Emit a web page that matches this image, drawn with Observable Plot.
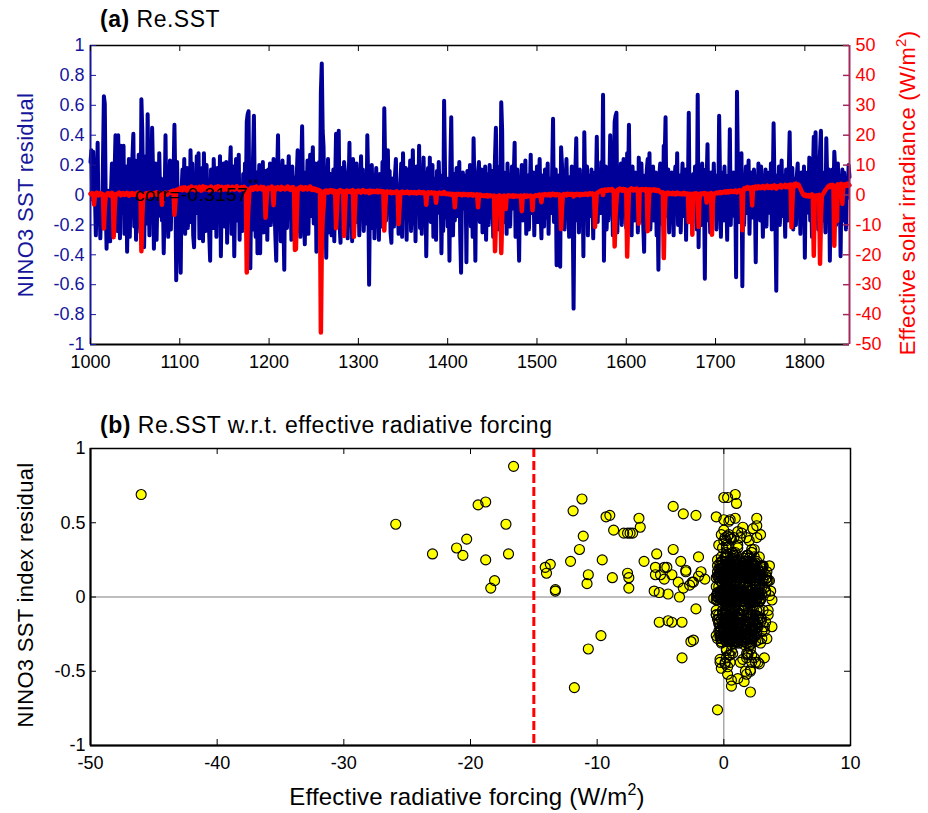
<!DOCTYPE html>
<html><head><meta charset="utf-8">
<script src="https://cdn.jsdelivr.net/npm/d3@7"></script>
<script src="https://cdn.jsdelivr.net/npm/@observablehq/plot@0.6"></script>
<style>
html,body{margin:0;padding:0;background:#fff;}
#page{position:relative;width:928px;height:813px;overflow:hidden;background:#fff;}
#page svg{position:absolute;left:0;}
</style></head><body><div id="page"></div>
<script>
// ---------------- data ----------------
const startYear = 1000; // one value per year, 1000 .. 1850
// NINO3 SST residual, in hundredths of a degree, one row per decade
const sstHundredths = [
22,30,-3,29,6,-1,-27,2,35,-19,
1,-29,-4,-21,24,66,61,-2,-36,3,
-26,0,-31,3,21,-17,20,15,40,-3,
-24,40,-1,-29,33,2,-12,33,-26,1,
19,-38,-2,24,-28,4,-9,26,41,-21,
23,-30,1,-16,27,-3,-25,64,43,-1,
-35,0,26,-19,54,5,-27,22,-2,45,
16,-36,-3,21,-30,1,-14,28,-1,11,
-17,2,-39,-6,40,-12,19,-28,0,23,
-23,20,-2,13,47,8,-57,22,-24,1,
-31,-52,3,17,-4,24,-26,-1,18,-22,
2,-18,30,-3,21,-27,-35,9,-2,26,
-12,28,-29,4,-1,18,-31,28,1,-24,
20,-3,7,-27,-44,17,-1,-22,24,0,
13,-28,18,-2,-14,26,-41,3,-19,21,
-21,-1,22,-32,6,-12,17,32,-26,0,
19,-41,2,24,-17,-2,27,-30,5,-9,
-24,14,-13,21,-1,49,54,56,-18,-49,
8,-23,24,53,-3,-28,15,-39,2,20,
-39,13,-4,22,-25,1,16,10,-30,17,
3,21,-20,11,-2,24,-6,-27,-44,14,
40,-11,16,-31,2,23,-15,-50,19,-1,
-22,9,26,-4,13,-30,19,-2,-17,6,
11,13,30,-24,3,-28,18,46,0,-16,
-33,15,-2,23,-26,4,27,-14,17,32,
-19,12,21,-38,-1,-23,22,-5,69,88,
43,32,-17,16,-42,3,24,-25,-1,14,
-27,2,17,-31,8,41,29,-13,43,-20,
-32,18,-1,-25,22,15,-8,14,-29,3,
35,-20,11,-31,24,16,4,-18,21,-2,
13,-27,2,26,-11,17,-24,5,-1,-19,
40,9,-60,1,-22,20,-3,13,-29,0,
18,-15,3,-30,14,-2,-21,22,-11,58,
20,-17,4,30,-9,16,-25,-32,11,0,
-21,13,24,-12,1,-26,-16,8,21,-28,
28,-14,-1,18,-30,3,17,-9,23,-24,
2,30,-19,12,-31,19,-3,-11,33,-22,
14,-26,4,25,-8,15,-41,0,18,-16,
25,-18,1,20,-28,11,-2,-30,16,-12,
22,-4,13,-39,3,-24,63,17,-15,2,
-21,11,-44,19,52,-1,-27,14,-17,5,
18,-14,1,22,-26,-52,4,15,-9,12,
13,-45,16,-12,1,20,-21,6,-28,38,
4,-44,13,-9,15,22,-18,-1,17,-25,
11,-12,19,-30,0,14,-20,20,2,-15,
16,-28,3,25,45,-9,11,-23,19,-2,
62,43,-18,15,1,12,-26,21,-11,7,
-21,3,19,-9,13,35,-28,0,17,-15,
-44,7,1,20,-17,17,-2,23,-26,4,
13,-23,2,27,-12,3,15,-27,9,-1,
19,-18,3,24,-9,-29,13,0,-21,17,
-15,2,21,-26,11,-1,-12,15,51,-18,
4,17,-47,-1,13,-15,-48,32,20,-9,
15,-23,6,24,-2,9,-28,12,-3,19,
-11,-76,1,16,38,-17,11,-25,17,0,
-20,11,-41,42,1,-12,19,-27,13,-3,
-14,17,1,-29,11,15,2,39,-18,4,
15,-12,22,-1,67,-44,6,19,-23,2,
-17,4,40,-9,13,-27,17,49,53,55,
-25,2,15,-14,21,-20,4,24,-9,11,
-22,28,6,47,-12,13,-27,19,-1,-17,
15,-9,11,-25,25,3,-17,21,-2,-20,
-38,13,-2,17,24,10,28,-23,1,-12,
19,-17,3,15,-27,1,-50,13,21,-9,
11,-20,33,24,52,-14,2,17,-25,3,
-17,15,-1,-27,11,19,-9,28,-20,1,
13,-25,4,21,-14,-1,17,-30,11,-2,
55,-17,11,-12,4,14,-17,19,1,-23,
67,-35,12,3,-20,21,-9,11,-56,17,
10,34,-17,2,-25,15,5,-8,21,-2,
13,-23,4,-9,53,11,-28,15,-1,-17,
19,-12,1,-30,13,-2,44,-20,11,-9,
15,-14,4,-55,69,17,-18,1,21,28,
-61,13,-20,6,19,-12,1,23,-26,3,
15,0,-15,17,1,-45,11,-9,21,-1,
-17,19,3,-28,13,-2,17,-21,11,-3,
15,-12,21,-23,2,48,6,-17,-64,13,
-9,19,-20,4,23,-14,13,-3,-28,17,
2,-17,15,42,-12,9,18,-23,11,-1,
-20,13,21,-9,4,-26,15,1,-14,19,
-42,11,-12,15,-2,25,-17,4,-28,13,
39,27,42,-15,2,-23,13,29,43,-12,
15,-17,1,-25,38,11,-9,17,-44,3,
-15,17,-1,29,17,-20,13,21,-9,11,
-41,4,17,-17,15,1,-23,11,-2,20,
12
];
// effective radiative (solar + volcanic) forcing, W/m^2, one row per decade
const forcing = [
0.4,0.2,0.6,0.3,-3.2,0.1,0.5,0.8,0.2,-0.1,
0.3,0.6,0.1,0.4,0.2,-11.2,-4.0,-0.6,0.2,0.5,
0.6,0.2,-0.2,0.4,0.7,0.3,-14.1,-5.0,0.1,0.4,
0.2,0.5,0.8,0.3,-0.1,0.4,0.6,0.2,0.0,0.5,
0.3,0.7,0.2,-0.2,0.4,0.5,0.1,0.6,0.3,0.0,
0.4,0.2,0.6,0.8,0.1,0.3,0.5,-18.8,-7.2,-0.8,
0.2,0.4,0.1,0.6,-0.6,0.3,0.7,0.2,0.5,0.0,
0.3,0.6,0.2,0.4,0.9,0.1,0.5,0.2,0.4,0.6,
-3.3,0.2,0.5,0.3,0.8,0.4,0.1,0.6,0.9,0.7,
1.0,1.3,1.1,1.5,-6.6,-2.7,1.6,1.8,1.4,2.0,
2.2,1.8,2.4,1.6,2.0,2.6,1.9,2.3,1.5,2.1,
2.5,1.7,2.2,2.8,1.9,2.4,2.1,1.6,2.6,2.0,
2.3,1.8,2.7,2.0,1.5,2.4,2.9,1.9,2.2,2.6,
1.8,2.1,2.5,1.6,2.2,2.8,2.0,2.4,1.7,2.3,
2.6,1.9,2.2,2.9,2.0,1.6,2.4,2.7,2.1,1.8,
2.3,2.6,1.9,2.1,2.8,2.2,1.7,2.4,2.0,2.7,
2.1,1.8,2.5,2.2,2.9,2.0,2.4,1.6,2.3,2.6,
2.0,2.4,2.7,1.9,2.2,-25.9,-9.3,-3.2,1.5,2.1,
2.5,2.2,1.8,2.6,2.0,2.3,2.8,1.9,2.4,2.1,
2.2,2.7,1.9,2.3,2.6,2.0,-7.6,-2.4,2.1,2.5,
1.9,2.4,2.2,2.8,2.0,-3.4,2.3,1.7,2.5,2.2,
2.6,2.0,2.3,1.8,2.7,2.1,2.4,2.1,1.9,2.5,
2.2,2.8,2.0,2.3,1.7,2.5,2.1,2.6,2.0,-18.4,
-18.1,-7.5,2.2,1.9,2.5,2.1,2.7,2.3,1.8,2.4,
2.0,2.6,2.2,1.9,2.4,2.1,2.8,2.3,1.7,2.2,
1.8,2.1,1.6,1.9,1.4,1.7,1.2,1.5,-46.0,-16.6,
-7.9,-4.0,1.3,1.0,1.5,1.2,0.8,1.4,1.1,1.6,
1.2,0.9,1.5,1.1,1.3,-11.1,-5.3,1.0,1.4,1.2,
1.6,1.1,0.8,1.3,-13.7,-5.4,1.2,1.5,1.0,1.3,
1.1,1.4,0.9,1.2,1.6,-14.0,-5.5,1.0,1.3,1.1,
1.5,1.0,1.3,0.8,1.2,1.6,1.1,1.4,0.9,1.2,
1.3,1.0,0.6,1.5,1.2,0.9,1.4,1.1,1.3,1.0,
1.2,1.5,0.9,1.1,1.4,1.0,1.3,0.8,1.2,-11.9,
-4.7,0.9,1.2,0.7,1.0,0.8,1.1,0.6,0.9,1.0,
0.7,1.0,0.8,1.2,0.6,-9.7,-4.4,0.9,0.7,1.1,
0.8,0.6,1.0,0.9,0.7,1.1,0.8,0.5,0.9,1.0,
0.7,0.9,0.6,1.0,0.8,0.5,0.9,0.7,1.1,0.8,
0.6,0.9,0.7,1.0,0.8,0.6,-3.3,0.7,0.9,0.5,
0.8,0.6,0.9,0.5,0.7,0.8,0.4,-2.6,0.6,0.7,
0.5,0.8,0.6,0.4,0.7,0.5,1.0,0.6,0.3,0.5,
0.4,0.2,0.5,0.3,0.0,0.4,0.1,0.3,-4.1,0.2,
0.3,0.0,0.4,0.2,0.1,0.3,-0.1,0.2,0.4,0.0,
0.2,0.1,0.3,-0.1,0.2,0.0,0.3,0.1,-0.2,0.2,
0.0,0.1,-0.2,0.2,-4.1,-0.1,0.1,-0.3,0.0,-0.2,
-0.3,-0.1,-0.4,-0.2,0.0,-0.5,-0.3,-0.1,-0.4,-0.2,
-0.3,-0.5,-0.2,-18.8,-8.7,-0.6,-0.3,-0.4,-0.1,-0.5,
-19.4,-7.4,-0.4,-0.2,-0.6,-4.7,-0.3,-0.5,-0.1,-0.4,
-0.2,-0.5,-0.3,-0.1,-0.6,-0.4,-0.2,-0.5,-0.3,-0.4,
-0.3,-0.6,-0.2,-5.4,-0.4,-0.5,-0.1,-0.3,-0.6,-0.2,
-0.4,-0.3,-0.5,-0.2,-0.6,-5.1,-0.4,-0.3,-0.1,-0.4,
-0.2,0.0,-0.3,0.1,-0.1,-2.4,0.2,-0.2,0.0,0.3,
0.1,-0.1,0.2,0.0,0.3,-0.2,0.1,0.4,0.4,0.0,
0.2,-0.1,0.3,0.1,0.0,0.2,-0.2,-11.4,-4.5,0.1,
0.3,0.0,0.2,-0.1,0.4,0.1,0.3,0.0,0.2,0.4,
0.1,-0.5,0.3,0.2,0.0,0.4,0.1,0.3,-0.1,0.2,
0.3,0.0,0.2,0.4,0.1,0.5,0.2,0.0,0.3,0.6,
0.4,0.2,0.5,0.1,0.3,-10.7,-4.4,0.6,0.8,1.0,
1.2,1.4,1.1,1.6,0.0,1.3,1.8,1.5,1.7,1.4,
1.9,1.6,1.8,1.5,2.0,1.7,1.4,-17.2,-6.7,-2.2,
1.6,1.9,1.5,2.1,1.7,1.8,1.4,2.0,1.6,1.9,
1.7,-20.6,-7.5,1.5,1.9,1.6,2.2,1.8,1.5,2.0,
1.8,1.5,2.1,1.7,-9.6,1.4,1.9,1.6,2.0,1.7,
1.8,1.5,2.0,1.6,-12.1,-3.6,1.9,1.7,1.4,1.8,
1.6,1.9,1.5,1.8,1.4,1.7,1.7,1.2,1.0,0.8,
0.6,0.9,-21.1,-6.3,0.5,0.7,0.4,0.8,0.3,0.6,
0.5,0.3,0.7,0.4,0.6,0.2,0.5,0.8,0.4,0.3,
0.6,0.4,0.2,0.5,0.7,0.3,0.6,0.4,0.1,0.5,
-9.0,-5.1,0.4,0.2,-13.3,-2.0,0.5,0.3,0.6,0.4,
0.3,-10.7,-1.5,0.5,0.2,0.4,0.6,0.3,0.6,0.1,
-2.5,0.4,0.2,0.5,0.3,0.6,-13.3,-2.2,0.4,0.5,
0.6,0.8,0.5,0.7,0.9,0.6,1.0,0.7,0.8,1.1,
0.9,1.2,0.8,1.0,1.3,0.9,1.1,1.4,1.0,1.2,
1.3,1.0,1.5,1.1,0.9,1.4,1.2,1.6,1.3,1.0,
-11.8,1.8,2.2,1.9,2.4,2.1,2.6,2.3,2.0,2.5,
2.2,-3.5,2.7,2.4,2.1,2.8,2.5,2.2,2.9,2.6,
2.3,2.7,2.4,3.0,2.5,2.2,2.8,2.6,3.1,2.4,
2.7,2.5,3.0,2.3,2.8,2.6,3.2,2.4,2.1,2.9,
2.6,3.0,2.7,3.3,2.5,2.9,3.1,2.8,3.4,2.6,
3.0,2.7,3.3,2.9,3.5,-10.8,-3.0,3.2,3.6,2.9,
3.8,3.4,3.1,3.5,2.8,2.2,1.4,0.8,0.2,-0.1,
-0.3,0.1,-0.4,-0.2,0.0,-0.5,-0.1,-0.3,0.2,-0.4,
-20.3,-2.0,-0.2,-0.5,-0.1,-0.3,0.0,-23.0,-7.6,-0.6,
0.2,0.6,1.1,1.6,2.0,2.4,2.8,3.1,2.7,3.3,
3.0,3.4,2.9,-17.0,-1.8,3.2,-8.8,3.6,3.1,3.5,
3.2,3.7,-3.0,3.3,2.9,3.6,3.0,3.4,3.8,3.1,
3.3
];
const yearTicks = [1000, 1100, 1200, 1300, 1400, 1500, 1600, 1700, 1800];
const sstTicks = [-1, -0.8, -0.6, -0.4, -0.2, 0, 0.2, 0.4, 0.6, 0.8, 1];
const solarTicks = [-50, -40, -30, -20, -10, 0, 10, 20, 30, 40, 50];
const scatterXTicks = [-50, -40, -30, -20, -10, 0, 10];
const scatterYTicks = [-1, -0.5, 0, 0.5, 1];
const forcingThreshold = -15;
const corrLabel = "corr=-0.3157";
const corrStars = "**";

// ---------------- build ----------------
const n = Math.min(sstHundredths.length, forcing.length);
const data = d3.range(n).map(i => ({year: startYear + i, sst: sstHundredths[i] / 100, forcing: forcing[i]}));

const FONT = '"Liberation Sans", Arial, Helvetica, sans-serif';
const BLUE = "#000099";
const AXBLUE = "#16169c";
const RED = "#ff0000";
const MAROON = "#a3285c";
const W = 928;
const TK = 6;
const fmt = d => String(+(+d).toFixed(2));
const style = {fontFamily: FONT, fontSize: "18px", background: "transparent", overflow: "visible"};
const page = document.getElementById("page");

// ---- panel (a) ----
const A = {top: 45, bottom: 36, left: 90, right: 79, height: 380};
const aW = W - A.left - A.right, aH = A.height - A.top - A.bottom;
const dimsA = {width: W, height: A.height, marginTop: A.top, marginBottom: A.bottom, marginLeft: A.left, marginRight: A.right, style};

const plotA = Plot.plot({
  ...dimsA,
  x: {domain: [1000, 1850]},
  y: {domain: [-1, 1]},
  marks: [
    Plot.lineY(data, {x: "year", y: "sst", stroke: BLUE, strokeWidth: 4}),
    Plot.ruleY([1], {stroke: "black", strokeWidth: 1.5}),
    Plot.ruleY([-1], {stroke: "black", strokeWidth: 2}),
    Plot.ruleX([1000], {stroke: AXBLUE, strokeWidth: 2}),
    Plot.tickY(sstTicks, {y: d => d, stroke: AXBLUE, insetRight: aW - TK}),
    Plot.tickX(yearTicks, {x: d => d, stroke: "black", insetTop: aH - TK}),
    Plot.tickX(yearTicks, {x: d => d, stroke: "black", insetBottom: aH - TK}),
    Plot.axisY({ticks: sstTicks, tickSize: 0, tickPadding: 6, tickFormat: fmt, label: null, color: AXBLUE}),
    Plot.axisX({ticks: yearTicks, tickSize: 0, tickPadding: 11, tickFormat: d => String(d), label: null, color: "black"})
  ]
});
plotA.style.top = "0px";
page.appendChild(plotA);

const plotAr = Plot.plot({
  ...dimsA,
  x: {domain: [1000, 1850], axis: null},
  y: {domain: [-50, 50]},
  marks: [
    Plot.lineY(data, {x: "year", y: "forcing", stroke: RED, strokeWidth: 4.5}),
    Plot.ruleX([1850], {stroke: MAROON, strokeWidth: 2}),
    Plot.tickY(solarTicks, {y: d => d, stroke: MAROON, strokeWidth: 1.5, insetLeft: aW - TK}),
    Plot.axisY({anchor: "right", ticks: solarTicks, tickSize: 0, tickPadding: 6, tickFormat: d => String(d), label: null, color: RED})
  ]
});
plotAr.style.top = "0px";
page.appendChild(plotAr);

// ---- panel (b) ----
const B = {top: 48, bottom: 35, left: 90, right: 78, height: 380, offset: 400};
const bW = W - B.left - B.right, bH = B.height - B.top - B.bottom;
const plotB = Plot.plot({
  width: W, height: B.height, marginTop: B.top, marginBottom: B.bottom, marginLeft: B.left, marginRight: B.right, style,
  x: {domain: [-50, 10]},
  y: {domain: [-1, 1]},
  marks: [
    Plot.ruleY([0], {stroke: "#7f7f7f", strokeWidth: 1}),
    Plot.ruleX([0], {stroke: "#7f7f7f", strokeWidth: 1}),
    Plot.ruleX([forcingThreshold], {stroke: RED, strokeWidth: 3, strokeDasharray: "9,4"}),
    // yellow faces first, then all black edges on top (as the reference renders them)
    Plot.dot(data, {x: "forcing", y: "sst", r: 5, fill: "#ffff00", stroke: "none"}),
    Plot.dot(data, {x: "forcing", y: "sst", r: 5, fill: "none", stroke: "black", strokeWidth: 1.15}),
    Plot.frame({stroke: "black", strokeWidth: 1.5}),
    Plot.ruleY([-1], {stroke: "black", strokeWidth: 2}),
    Plot.ruleX([-50], {stroke: "black", strokeWidth: 2}),
    Plot.tickY(scatterYTicks, {y: d => d, stroke: "black", insetRight: bW - TK}),
    Plot.tickY(scatterYTicks, {y: d => d, stroke: "black", insetLeft: bW - TK}),
    Plot.tickX(scatterXTicks, {x: d => d, stroke: "black", insetTop: bH - TK}),
    Plot.tickX(scatterXTicks, {x: d => d, stroke: "black", insetBottom: bH - TK}),
    Plot.axisY({ticks: scatterYTicks, tickSize: 0, tickPadding: 5, tickFormat: fmt, label: null, color: "black"}),
    Plot.axisX({ticks: scatterXTicks, tickSize: 0, tickPadding: 11, tickFormat: d => String(d), label: null, color: "black"})
  ]
});
plotB.style.top = B.offset + "px";
page.appendChild(plotB);

// ---- titles, axis labels, annotation ----
const ann = d3.select(page).append("svg")
  .attr("width", W).attr("height", 813)
  .style("top", "0px")
  .style("font-family", FONT)
  .style("pointer-events", "none");

function title(y, bold, rest) {
  const t = ann.append("text").attr("x", 100).attr("y", y)
    .attr("font-size", 23).attr("letter-spacing", 0.5).attr("fill", "black");
  t.append("tspan").attr("font-weight", "bold").text(bold);
  t.append("tspan").text(rest);
}
title(27, "(a)", " Re.SST");
title(433, "(b)", " Re.SST w.r.t. effective radiative forcing");

function vlabel(x, y, txt, color, sup) {
  const t = ann.append("text").attr("transform", `translate(${x},${y}) rotate(-90)`)
    .attr("text-anchor", "middle").attr("font-size", 22).attr("letter-spacing", 0.3).attr("fill", color);
  if (sup) {
    t.append("tspan").text(txt);
    t.append("tspan").attr("dy", -9).attr("font-size", 15).text("2");
    t.append("tspan").attr("dy", 9).text(")");
  } else t.text(txt);
}
vlabel(33, 195, "NINO3 SST residual", AXBLUE, false);
vlabel(915, 193, "Effective solar irradiance (W/m", RED, true);
vlabel(33, 595, "NINO3 SST index residual", "black", false);

const xl = ann.append("text").attr("x", 467).attr("y", 805).attr("text-anchor", "middle")
  .attr("font-size", 24).attr("letter-spacing", 0.2).attr("fill", "black");
xl.append("tspan").text("Effective radiative forcing (W/m");
xl.append("tspan").attr("dy", -10).attr("font-size", 16).text("2");
xl.append("tspan").attr("dy", 10).text(")");

const ct = ann.append("text").attr("x", 135).attr("y", 201).attr("font-size", 19)
  .attr("letter-spacing", 0.4).attr("fill", "black");
ct.append("tspan").text(corrLabel);
ct.append("tspan").attr("dy", -13).attr("font-size", 13).text(corrStars);
</script>
</body></html>
